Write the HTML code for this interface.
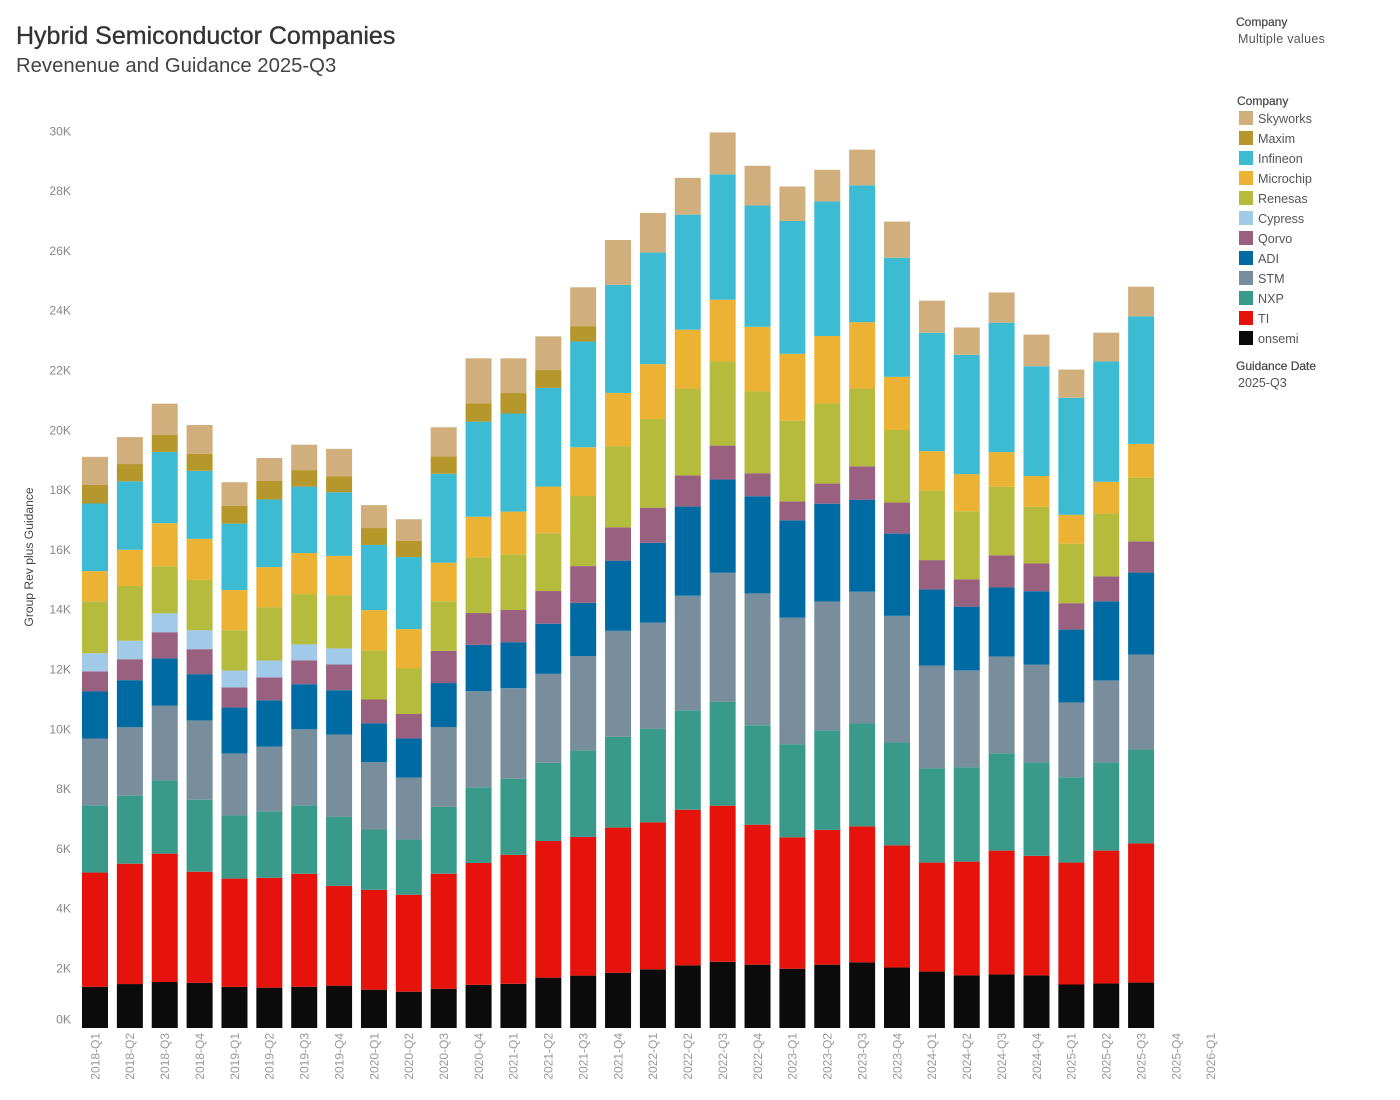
<!DOCTYPE html>
<html lang="en">
<head>
<meta charset="utf-8">
<title>Hybrid Semiconductor Companies</title>
<style>
html,body{margin:0;padding:0;background:#fff;width:1400px;height:1100px;overflow:hidden}
svg{display:block}
text{font-family:"Liberation Sans",sans-serif}
</style>
</head>
<body>
<svg id="chart" xmlns="http://www.w3.org/2000/svg" width="1400" height="1100" viewBox="0 0 1400 1100">
  <text x="16" y="44" font-size="25" fill="#333" stroke="#333" stroke-width="0.35">Hybrid Semiconductor Companies</text>
  <text x="16" y="72" font-size="20.3" fill="#444">Revenenue and Guidance 2025-Q3</text>
  <text transform="translate(33,557) rotate(-90)" text-anchor="middle" font-size="12.1" fill="#444">Group Rev plus Guidance</text>
  <g id="y-axis"></g>
  <g id="bars"></g>
  <g id="x-axis"></g>
  <g>
    <text x="1236" y="26" font-size="12" fill="#444" stroke="#444" stroke-width="0.2">Company</text>
    <text x="1238" y="43" font-size="12.5" letter-spacing="0.3" fill="#555">Multiple values</text>
  </g>
  <g id="legend">
    <text x="1237" y="105" font-size="12" fill="#444" stroke="#444" stroke-width="0.2">Company</text>
  </g>
  <g>
    <text x="1236" y="370" font-size="12" fill="#444" stroke="#444" stroke-width="0.2">Guidance Date</text>
    <text x="1238" y="387" font-size="12.5" fill="#555">2025-Q3</text>
  </g>
</svg>
<script>
const categories = ["2018-Q1","2018-Q2","2018-Q3","2018-Q4","2019-Q1","2019-Q2","2019-Q3","2019-Q4","2020-Q1","2020-Q2","2020-Q3","2020-Q4","2021-Q1","2021-Q2","2021-Q3","2021-Q4","2022-Q1","2022-Q2","2022-Q3","2022-Q4","2023-Q1","2023-Q2","2023-Q3","2023-Q4","2024-Q1","2024-Q2","2024-Q3","2024-Q4","2025-Q1","2025-Q2","2025-Q3","2025-Q4","2026-Q1"];
const yTicks = [0,2000,4000,6000,8000,10000,12000,14000,16000,18000,20000,22000,24000,26000,28000,30000];
const onsemi = [1376,1470,1538,1511,1376,1349,1376,1416,1282,1214,1308,1444,1478,1684,1752,1848,1964,2098,2214,2118,1983,2118,2195,2022,1887,1759,1791,1759,1455,1487,1519];
const TI = [3823,4025,4294,3715,3621,3675,3782,3338,3338,3244,3852,4075,4314,4570,4638,4855,4913,5202,5221,4682,4394,4509,4548,4086,3645,3805,4142,3998,4078,4446,4655];
const NXP = [2248,2275,2450,2409,2113,2221,2288,2315,2019,1844,2239,2529,2546,2615,2888,3038,3135,3327,3481,3327,3115,3327,3442,3442,3158,3158,3254,3126,2853,2950,3142];
const STM = [2234,2288,2504,2652,2073,2167,2544,2746,2248,2073,2668,3215,3027,2976,3164,3543,3543,3831,4312,4408,4235,4312,4408,4235,3431,3239,3239,3271,2502,2742,3175];
const ADI = [1575,1575,1575,1548,1534,1548,1508,1481,1306,1306,1470,1555,1538,1675,1777,2346,2673,2981,3115,3250,3250,3269,3077,2750,2549,2132,2308,2453,2437,2645,2741];
const Qorvo = [673,700,875,835,673,767,794,861,794,821,1077,1060,1077,1094,1230,1115,1173,1038,1135,769,635,673,1115,1038,978,914,1074,930,882,834,1042];
const Cypress = [606,619,633,633,565,565,538,538];
const Renesas = [1736,1831,1575,1683,1346,1777,1683,1777,1642,1521,1660,1865,1865,1933,2343,2716,2966,2908,2812,2735,2696,2677,2600,2427,2325,2277,2293,1893,1989,2101,2133];
const Microchip = [1010,1211,1440,1373,1346,1346,1373,1319,1346,1319,1289,1357,1426,1562,1631,1778,1836,1971,2067,2163,2240,2259,2221,1778,1320,1240,1160,1032,968,1064,1128];
const Infineon = [2261,2288,2382,2275,2221,2261,2221,2127,2181,2409,2974,3179,3281,3298,3538,3615,3731,3846,4192,4058,4442,4500,4577,3981,3959,3991,4328,3671,3911,4024,4264];
const Maxim = [619,579,565,565,592,619,552,538,565,538,581,615,684,598,513];
const Skyworks = [942,902,1050,969,794,767,848,915,767,727,974,1504,1162,1128,1299,1500,1327,1231,1404,1327,1154,1058,1192,1212,1074,914,1010,1058,946,962,994];

const stackOrder = ["onsemi","TI","NXP","STM","ADI","Qorvo","Cypress","Renesas","Microchip","Infineon","Maxim","Skyworks"];
const stackValues = [onsemi,TI,NXP,STM,ADI,Qorvo,Cypress,Renesas,Microchip,Infineon,Maxim,Skyworks];
const stackColors = ["#0b0b0b","#e5130b","#3a9a8a","#788e9c","#006ba3","#9a6080","#a1c9e8","#b5bb3c","#ebb233","#3dbbd3","#b5972c","#d0af7c"];

const NS = "http://www.w3.org/2000/svg";
const barLeft = i => 82 + i * 34.87;
const barWidth = 26;
const yScale = v => 1028 - v * 0.0299;

function make(tag, attrs, parent, txt) {
  const el = document.createElementNS(NS, tag);
  for (const k in attrs) el.setAttribute(k, attrs[k]);
  if (txt !== undefined) el.textContent = txt;
  parent.appendChild(el);
  return el;
}

const yAxis = document.getElementById("y-axis");
yTicks.forEach(t => {
  const yy = t === 0 ? yScale(t) - 9 : yScale(t);
  const el = make("text", {x: 71, y: yy + 4.3, "text-anchor": "end", "font-size": 12.2, fill: "#888"}, yAxis, (t / 1000) + "K");
  
  
});

const xAxis = document.getElementById("x-axis");
categories.forEach((c, i) => {
  const cx = barLeft(i) + barWidth / 2;
  const el = make("text", {transform: "translate(" + (cx + 4.3) + ",1033) rotate(-90)", "text-anchor": "end", "font-size": 12, fill: "#999"}, xAxis, c);
  
  
});

const barsG = document.getElementById("bars");
categories.forEach((c, i) => {
  let cum = 0;
  stackValues.forEach((arr, s) => {
    const v = arr[i] || 0;
    if (v <= 0) return;
    const top = yScale(cum + v), bottom = yScale(cum);
    const r = make("rect", {x: barLeft(i), y: top, width: barWidth, height: bottom - top, fill: stackColors[s]}, barsG);
    
    
    cum += v;
  });
});

const legend = document.getElementById("legend");
stackOrder.slice().reverse().forEach((name, i) => {
  const color = stackColors[stackOrder.indexOf(name)];
  const g = make("g", {}, legend);
  
  
  const sw = make("rect", {x: 1239, y: 111 + i * 20, width: 14, height: 14, fill: color}, g);
  
  
  const lb = make("text", {x: 1258, y: 123 + i * 20, "font-size": 12.6, fill: "#555"}, g, name);
  
  
});
</script>
</body>
</html>
